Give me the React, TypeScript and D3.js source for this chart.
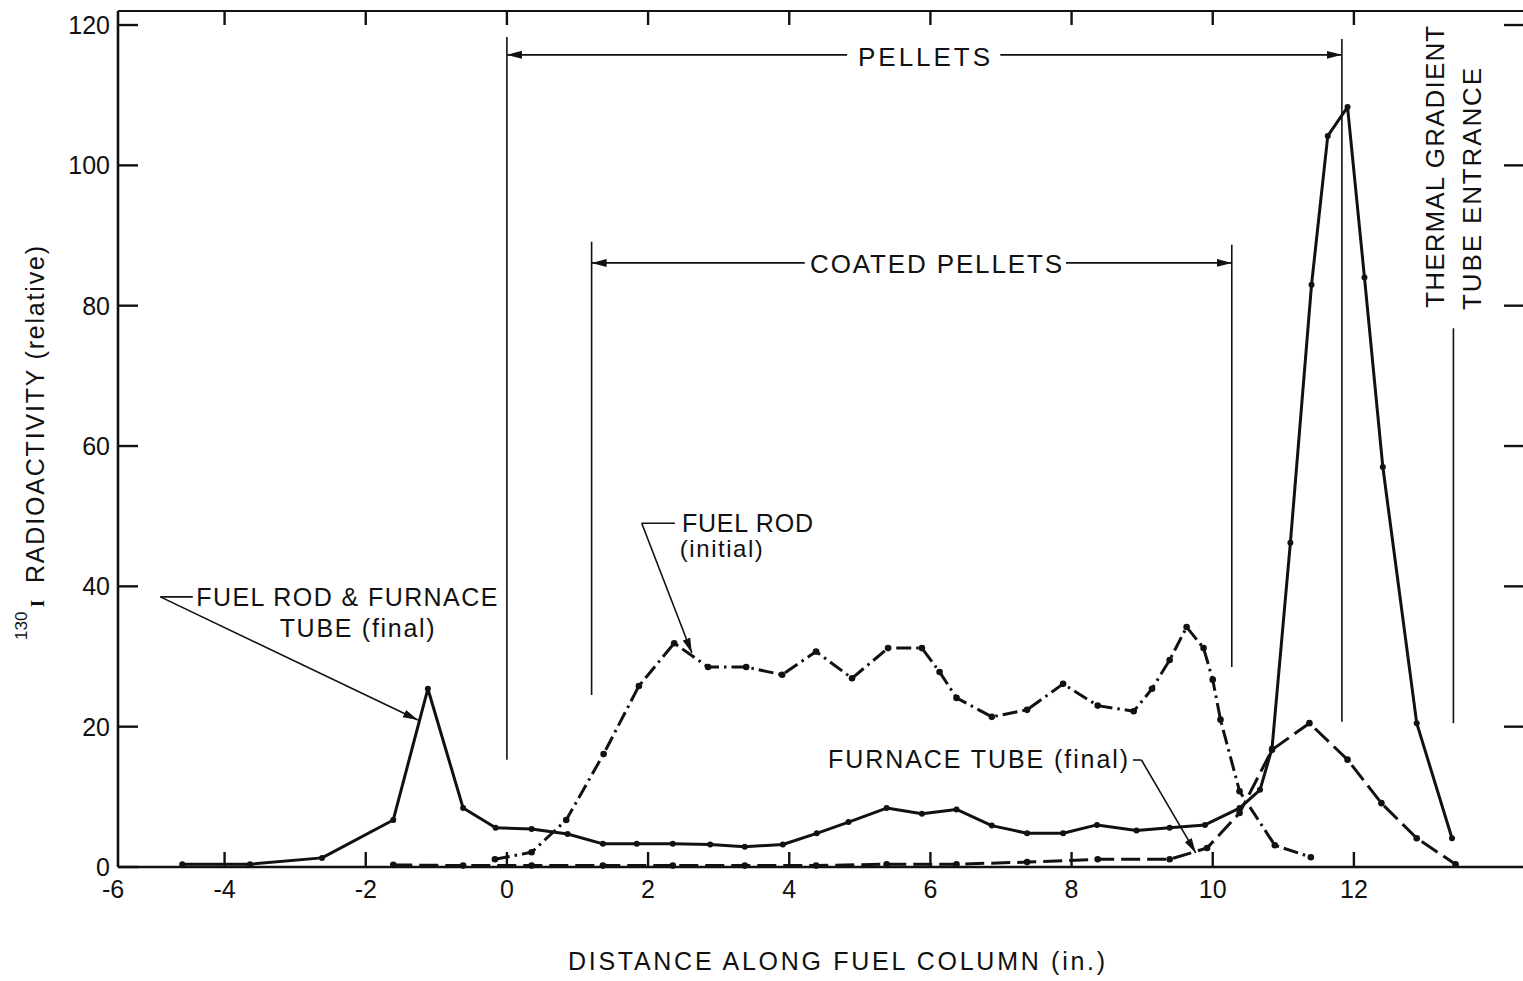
import React from "react";
import * as d3 from "d3";

// Axis tick values and labels
const xTickValues = [-6, -4, -2, 0, 2, 4, 6, 8, 10, 12];
const xTickLabels = ["-6", "-4", "-2", "0", "2", "4", "6", "8", "10", "12"];
const yTickValues = [0, 20, 40, 60, 80, 100, 120];
const yTickLabels = ["0", "20", "40", "60", "80", "100", "120"];

// Fuel rod & furnace tube (final) — solid line
const finalPos = [-4.6, -3.64, -2.62, -1.61, -1.12, -0.62, -0.16, 0.35, 0.86, 1.36, 1.84, 2.35, 2.88, 3.37, 3.91, 4.39, 4.84, 5.38, 5.88, 6.37, 6.87, 7.37, 7.88, 8.36, 8.92, 9.39, 9.89, 10.38, 10.67, 10.84, 11.1, 11.4, 11.63, 11.91, 12.15, 12.41, 12.89, 13.39];
const finalAct = [0.4, 0.4, 1.3, 6.7, 25.4, 8.4, 5.6, 5.4, 4.7, 3.3, 3.3, 3.3, 3.2, 2.9, 3.2, 4.8, 6.4, 8.4, 7.6, 8.2, 5.9, 4.8, 4.8, 6.0, 5.2, 5.6, 6.0, 8.4, 11.0, 16.9, 46.2, 83.0, 104.2, 108.3, 84.0, 57.0, 20.5, 4.1];

// Fuel rod (initial) — dash-dot line
const initialPos = [-0.17, 0.35, 0.84, 1.37, 1.87, 2.37, 2.85, 3.39, 3.9, 4.38, 4.89, 5.4, 5.88, 6.13, 6.37, 6.87, 7.37, 7.88, 8.37, 8.88, 9.14, 9.39, 9.63, 9.87, 10.0, 10.11, 10.38, 10.88, 11.39];
const initialAct = [1.1, 2.1, 6.7, 16.1, 25.8, 31.9, 28.5, 28.5, 27.4, 30.7, 26.9, 31.2, 31.2, 27.8, 24.1, 21.4, 22.4, 26.1, 23.0, 22.2, 25.4, 29.5, 34.2, 31.2, 26.7, 21.0, 10.8, 3.1, 1.4];

// Furnace tube (final) — dashed line
const furnacePos = [-1.61, -0.62, 0.35, 1.36, 2.35, 3.37, 4.38, 5.38, 6.37, 7.37, 8.37, 9.39, 9.92, 10.38, 10.84, 11.37, 11.91, 12.39, 12.89, 13.44];
const furnaceAct = [0.3, 0.2, 0.2, 0.2, 0.2, 0.2, 0.2, 0.4, 0.4, 0.7, 1.1, 1.1, 2.7, 7.7, 16.7, 20.5, 15.3, 9.1, 4.1, 0.4];

const W = 1523;
const H = 981;
const FONT = "'Liberation Sans', Arial, sans-serif";
const INK = "#111";

export default function App() {
  const plot = { left: 118, right: 1524, top: 11, bottom: 867 };
  const x = d3.scaleLinear().domain([-5.51, 14.41]).range([plot.left, plot.right]);
  const y = d3.scaleLinear().domain([0, 122]).range([plot.bottom, plot.top]);
  const line = d3
    .line<[number, number]>()
    .x((d) => x(d[0]))
    .y((d) => y(d[1]));

  const series = [
    { pos: finalPos, act: finalAct, dash: undefined as string | undefined, r: 3 },
    { pos: initialPos, act: initialAct, dash: "15 5 2.5 5", r: 3.3 },
    { pos: furnacePos, act: furnaceAct, dash: "19 7", r: 3.3 },
  ];

  const [xMin] = x.domain();
  const innerTicks = xTickValues.filter((v) => v > xMin);

  // Boundary markers (x position, top value, bottom value)
  const markers: [number, number, number][] = [
    [0, 118.3, 15.3],
    [1.2, 89.1, 24.5],
    [10.27, 88.7, 28.5],
    [11.83, 118.0, 20.7],
    [13.41, 76.8, 20.5],
  ];

  const seg = (x1: number, y1: number, x2: number, y2: number, arrow = false, key?: string) => (
    <line
      key={key}
      x1={x(x1)}
      y1={y(y1)}
      x2={x(x2)}
      y2={y(y2)}
      stroke={INK}
      strokeWidth={1.6}
      markerEnd={arrow ? "url(#arrowHead)" : undefined}
    />
  );

  return (
    <svg
      width={W}
      height={H}
      viewBox={`0 0 ${W} ${H}`}
      style={{ position: "absolute", left: 0, top: 0, background: "#fff", display: "block" }}
    >
      <defs>
        <marker
          id="arrowHead"
          markerUnits="userSpaceOnUse"
          markerWidth={16}
          markerHeight={10}
          refX={15}
          refY={5}
          orient="auto"
        >
          <path d="M0,1 L15,5 L0,9 Z" fill={INK} />
        </marker>
      </defs>

      {/* Frame */}
      <line x1={plot.left} y1={plot.top} x2={plot.left} y2={plot.bottom} stroke={INK} strokeWidth={2.6} />
      <line x1={plot.left} y1={plot.bottom} x2={plot.right} y2={plot.bottom} stroke={INK} strokeWidth={2.6} />
      <line x1={plot.left} y1={plot.top} x2={plot.right} y2={plot.top} stroke={INK} strokeWidth={2.2} />

      {/* Bottom and top ticks */}
      {innerTicks.map((v) => (
        <g key={`xt${v}`}>
          <line x1={x(v)} x2={x(v)} y1={plot.bottom} y2={plot.bottom - 15} stroke={INK} strokeWidth={2.4} />
          <line x1={x(v)} x2={x(v)} y1={plot.top} y2={plot.top + 14} stroke={INK} strokeWidth={2.4} />
        </g>
      ))}
      {xTickValues.map((v, i) => (
        <text
          key={`xl${v}`}
          x={Math.max(x(v), x(xMin)) - (v < xMin ? 5 : 0)}
          y={898}
          textAnchor="middle"
          fontFamily={FONT}
          fontSize={25}
          fill={INK}
        >
          {xTickLabels[i]}
        </text>
      ))}

      {/* Left and right ticks */}
      {yTickValues.map((v, i) => (
        <g key={`yt${v}`}>
          <line x1={plot.left} x2={plot.left + 20} y1={y(v)} y2={y(v)} stroke={INK} strokeWidth={2.4} />
          {v > 0 && (
            <line x1={plot.right} x2={plot.right - 20} y1={y(v)} y2={y(v)} stroke={INK} strokeWidth={2.4} />
          )}
          <text
            x={110}
            y={y(v)}
            dy="0.36em"
            textAnchor="end"
            fontFamily={FONT}
            fontSize={25}
            fill={INK}
          >
            {yTickLabels[i]}
          </text>
        </g>
      ))}

      {/* Axis titles */}
      <text
        x={568}
        y={970}
        fontFamily={FONT}
        fontSize={25}
        textLength={537}
        lengthAdjust="spacing"
        fill={INK}
      >
        DISTANCE ALONG FUEL COLUMN (in.)
      </text>
      <g>
        <text transform="translate(27,640) rotate(-90)" fontFamily={FONT} fontSize={17} fill={INK}>
          130
        </text>
        <text
          transform="translate(44,607) rotate(-90)"
          fontFamily="'Liberation Serif', serif"
          fontSize={18}
          fontWeight="bold"
          fill={INK}
        >
          I
        </text>
        <text
          transform="translate(44,583) rotate(-90)"
          fontFamily={FONT}
          fontSize={25}
          textLength={337}
          lengthAdjust="spacing"
          fill={INK}
        >
          RADIOACTIVITY (relative)
        </text>
      </g>

      {/* Boundary markers */}
      {markers.map(([mx, top, bot], i) => seg(mx, top, mx, bot, false, `m${i}`))}

      {/* PELLETS span */}
      {seg(4.82, 115.75, 0, 115.75, true)}
      {seg(6.99, 115.75, 11.83, 115.75, true)}
      <text
        x={x(5.91)}
        y={y(114.2)}
        textAnchor="middle"
        fontFamily={FONT}
        fontSize={26}
        textLength={132}
        lengthAdjust="spacing"
        fill={INK}
      >
        PELLETS
      </text>

      {/* COATED PELLETS span */}
      {seg(4.22, 86.1, 1.2, 86.1, true)}
      {seg(7.92, 86.1, 10.27, 86.1, true)}
      <text
        x={x(6.08)}
        y={y(84.6)}
        textAnchor="middle"
        fontFamily={FONT}
        fontSize={26}
        textLength={252}
        lengthAdjust="spacing"
        fill={INK}
      >
        COATED PELLETS
      </text>

      {/* Thermal gradient tube entrance */}
      <text
        transform={`translate(${x(13.27)},${y(79.7)}) rotate(-90)`}
        fontFamily={FONT}
        fontSize={26}
        textLength={282}
        lengthAdjust="spacing"
        fill={INK}
      >
        THERMAL GRADIENT
      </text>
      <text
        transform={`translate(${x(13.8)},${y(79.4)}) rotate(-90)`}
        fontFamily={FONT}
        fontSize={26}
        textLength={242}
        lengthAdjust="spacing"
        fill={INK}
      >
        TUBE ENTRANCE
      </text>

      {/* Series */}
      {series.map((s, i) => {
        const pts = s.pos.map((p, j) => [p, s.act[j]] as [number, number]);
        return (
          <g key={`s${i}`}>
            <path
              d={line(pts) ?? ""}
              fill="none"
              stroke={INK}
              strokeWidth={3}
              strokeDasharray={s.dash}
              strokeLinejoin="round"
            />
            {pts.map((d, j) => (
              <circle key={j} cx={x(d[0])} cy={y(d[1])} r={s.r} fill={INK} />
            ))}
          </g>
        );
      })}

      {/* Label: fuel rod & furnace tube (final) */}
      {seg(-4.45, 38.5, -4.91, 38.5)}
      {seg(-4.91, 38.5, -1.26, 20.95, true)}
      <text
        x={x(-4.4)}
        y={y(37.2)}
        fontFamily={FONT}
        fontSize={25}
        textLength={301}
        lengthAdjust="spacing"
        fill={INK}
      >
        FUEL ROD &amp; FURNACE
      </text>
      <text
        x={x(-3.22)}
        y={y(32.8)}
        fontFamily={FONT}
        fontSize={25}
        textLength={155}
        lengthAdjust="spacing"
        fill={INK}
      >
        TUBE (final)
      </text>

      {/* Label: fuel rod (initial) */}
      {seg(2.38, 49.0, 1.91, 49.0)}
      {seg(1.91, 49.0, 2.62, 30.5, true)}
      <text
        x={x(2.48)}
        y={y(47.8)}
        fontFamily={FONT}
        fontSize={25}
        textLength={131}
        lengthAdjust="spacing"
        fill={INK}
      >
        FUEL ROD
      </text>
      <text
        x={x(2.45)}
        y={y(44.2)}
        fontFamily={FONT}
        fontSize={24}
        textLength={83}
        lengthAdjust="spacing"
        fill={INK}
      >
        (initial)
      </text>

      {/* Label: furnace tube (final) */}
      {seg(8.87, 15.25, 8.99, 15.25)}
      {seg(8.99, 15.25, 9.76, 2.0, true)}
      <text
        x={x(4.55)}
        y={y(14.1)}
        fontFamily={FONT}
        fontSize={25}
        textLength={300}
        lengthAdjust="spacing"
        fill={INK}
      >
        FURNACE TUBE (final)
      </text>
    </svg>
  );
}
